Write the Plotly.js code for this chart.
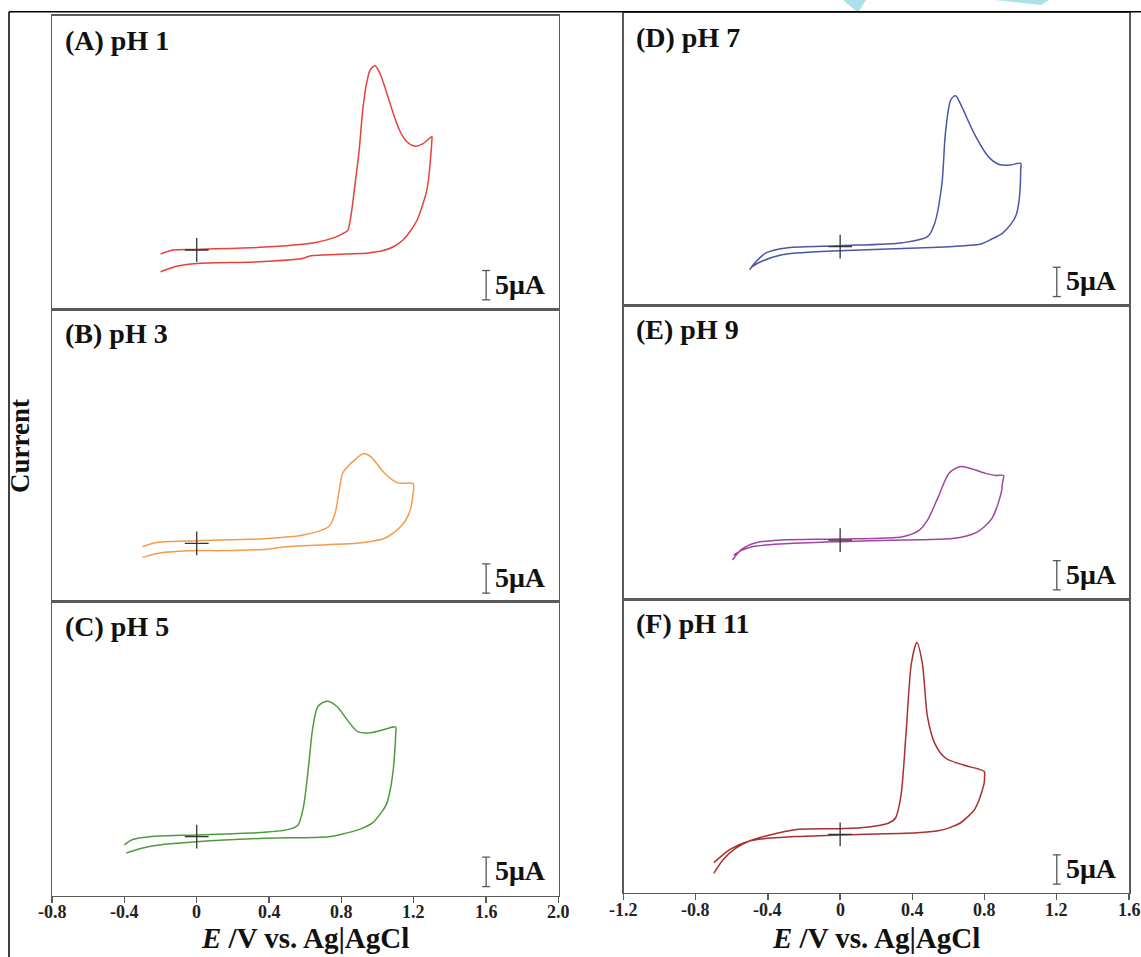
<!DOCTYPE html>
<html><head><meta charset="utf-8">
<script src="https://cdn.plot.ly/plotly-3.0.1.min.js"></script>
<style>html,body{margin:0;padding:0;background:#fff;}#chart{width:1141px;height:957px;}</style>
</head><body><div id="chart"></div>
<script>
// ---- Data (potential in V vs Ag|AgCl, current in uA relative to the "+" origin) ----
const potentialA = [-0.20,-0.13,0,0.35,0.65,0.76,0.82,0.836,0.852,0.876,0.898,0.918,0.939,0.959,0.986,1.01,1.04,1.08,1.12,1.16,1.21,1.25,1.30, 1.30,1.295,1.285,1.27,1.25,1.22,1.18,1.14,1.09,1.03,0.95,0.82,0.63,0.59,0.35,0,-0.10,-0.20];
const currentA   = [-0.7,0,0.1,0.45,1.25,2.1,3.0,3.4,5.7,11.4,17.0,23.9,28.4,30.7,31.4,30.3,27.8,23.9,20.5,18.5,17.7,18.1,19.3, 18.7,16.5,13.0,9.9,7.8,5.2,3.2,1.7,0.6,-0.1,-0.5,-0.7,-1.0,-1.4,-2.0,-2.3,-2.7,-3.7];

const potentialB = [-0.30,-0.23,0,0.35,0.59,0.73,0.765,0.785,0.806,0.826,0.877,0.922,0.96,1.04,1.11,1.195, 1.20,1.195,1.185,1.165,1.135,1.09,1.04,0.96,0.88,0.49,0.39,0.14,0,-0.21,-0.30];
const currentB   = [-0.6,0.1,0.45,0.75,1.4,2.85,5.1,8.5,11.9,12.8,14.3,15.3,14.8,11.9,10.3,10.2, 9.7,8.2,6.2,4.5,3.1,1.8,0.85,0.3,0,-0.6,-1.0,-1.25,-1.25,-1.7,-2.4];

const potentialC = [-0.40,-0.37,-0.33,-0.21,0,0.345,0.51,0.56,0.59,0.62,0.64,0.67,0.72,0.775,0.84,0.89,0.96,1.04,1.10, 1.10,1.095,1.085,1.07,1.05,1.02,0.97,0.90,0.80,0.73,0.345,0,-0.21,-0.31,-0.39];
const currentC   = [-1.4,-0.7,-0.3,0.1,0.3,0.7,1.25,2.0,5.1,12.5,18.2,22.2,23.1,22.2,19.6,17.9,17.7,18.3,18.7, 17.6,14.5,11.0,8.0,5.6,4.1,2.3,1.25,0.4,0,-0.3,-0.85,-1.4,-2.0,-2.8];

const potentialD = [-0.50,-0.467,-0.408,-0.289,0,0.346,0.484,0.524,0.564,0.583,0.613,0.639,0.673,0.742,0.822,0.881,0.94,1.0, 1.0,0.998,0.99,0.975,0.95,0.90,0.84,0.78,0.66,0.544,0,-0.209,-0.328,-0.427,-0.487,-0.50];
const currentD   = [-3.85,-2.56,-1.02,-0.17,0.17,0.68,1.7,4.0,10.8,19.3,25.0,25.7,23.9,19.3,15.3,14.0,13.9,14.2, 13.1,10.5,7.6,5.4,4.0,2.3,1.3,0.45,0.1,-0.11,-0.68,-1.02,-1.42,-2.39,-3.4,-3.85];

const potentialE = [-0.596,-0.546,-0.467,-0.328,0,0.346,0.435,0.484,0.544,0.603,0.663,0.722,0.802,0.861,0.905, 0.90,0.895,0.881,0.862,0.841,0.80,0.762,0.70,0.623,0.346,0,-0.328,-0.487,-0.546,-0.59];
const currentE   = [-3.4,-1.6,-0.45,0,0.17,0.57,1.6,3.4,7.4,11.4,12.5,12.2,11.4,11.0,11.0, 9.9,8.5,6.8,5.1,3.7,2.3,1.4,0.7,0.28,0,-0.28,-0.68,-1.14,-1.75,-2.56];

const potentialF = [-0.70,-0.645,-0.58,-0.50,-0.40,-0.30,-0.229,0,0.147,0.266,0.306,0.336,0.365,0.395,0.425,0.455,0.484,0.524,0.583,0.683,0.798, 0.80,0.797,0.782,0.765,0.742,0.70,0.663,0.60,0.544,0.425,0,-0.249,-0.45,-0.52,-0.60,-0.65,-0.70];
const currentF   = [-6.65,-4.2,-2.4,-1.1,-0.2,0.5,0.85,0.96,1.19,1.88,2.73,6.4,17.2,29.2,32.7,29.2,20.0,15.5,13.0,11.8,10.7, 9.8,8.6,7.0,5.5,4.1,2.8,1.88,1.05,0.62,0.28,-0.11,-0.4,-0.85,-1.3,-2.4,-3.5,-4.84];

const panelLabels = ["(A) pH 1","(B) pH 3","(C) pH 5","(D) pH 7","(E) pH 9","(F) pH 11"];
const leftTickVals  = [-0.8,-0.4,0,0.4,0.8,1.2,1.6,2.0];
const leftTickText  = ["-0.8","-0.4","0","0.4","0.8","1.2","1.6","2.0"];
const rightTickVals = [-1.2,-0.8,-0.4,0,0.4,0.8,1.2,1.6];
const rightTickText = ["-1.2","-0.8","-0.4","0","0.4","0.8","1.2","1.6"];
const scaleBarValue = 5;      // uA
const scaleBarLabel = "5μA";
const xTitle = "<i>E</i> /V vs. Ag|AgCl";
const yTitle = "Current";

// ---- Layout helpers ----
const W = 1141, H = 957;
const px = x => x / W;
const py = y => 1 - y / H;
const FONT = "Liberation Serif, 'Times New Roman', serif";

const panels = [
  {pot: potentialA, cur: currentA, color: "#e8403a", col: 0, top: 15.7, bottom: 309,   yr: [-10.06, 39.94]},
  {pot: potentialB, cur: currentB, color: "#f59a48", col: 0, top: 309,  bottom: 601.7, yr: [-9.96, 39.94]},
  {pot: potentialC, cur: currentC, color: "#4f9a3e", col: 0, top: 601.7,bottom: 895.7, yr: [-10.06, 40.06]},
  {pot: potentialD, cur: currentD, color: "#4a56a6", col: 1, top: 12.5, bottom: 305,   yr: [-9.94, 39.9]},
  {pot: potentialE, cur: currentE, color: "#a044a4", col: 1, top: 305,  bottom: 599.3, yr: [-10.1, 40.06]},
  {pot: potentialF, cur: currentF, color: "#a83030", col: 1, top: 599.3,bottom: 892.7, yr: [-9.96, 40.06]}
];
const cols = [
  {left: 52, right: 558.5, range: [-0.8, 2.0], tv: leftTickVals, tt: leftTickText, bar: 1.6, labelY: 912},
  {left: 623.5, right: 1129, range: [-1.2, 1.6], tv: rightTickVals, tt: rightTickText, bar: 1.2, labelY: 910}
];

const data = [];
const layout = {
  width: W, height: H, margin: {l:0, r:0, t:0, b:0},
  paper_bgcolor: "#fff", plot_bgcolor: "#fff", showlegend: false,
  font: {family: FONT, color: "#111"},
  shapes: [], annotations: []
};

panels.forEach((p, i) => {
  const n = i + 1;
  const xa = n === 1 ? "x" : "x" + n, ya = n === 1 ? "y" : "y" + n;
  const c = cols[p.col];
  const isBottom = (i === 2 || i === 5);
  data.push({x: p.pot, y: p.cur, xaxis: xa, yaxis: ya, mode: "lines", type: "scatter",
    line: {color: p.color, width: 1.5, shape: "spline", smoothing: 0.8}, hoverinfo: "skip"});
  data.push({x: [0], y: [0], xaxis: xa, yaxis: ya, mode: "markers", type: "scatter",
    marker: {symbol: "cross-thin", size: 17, line: {color: "#333", width: 1.3}}, hoverinfo: "skip"});
  layout["xaxis" + (n === 1 ? "" : n)] = {
    domain: [px(c.left), px(c.right)], range: c.range, anchor: ya,
    showline: true, mirror: true, linecolor: "#5a5a5a", linewidth: 1.5,
    showgrid: false, zeroline: false, fixedrange: true,
    tickmode: "array", tickvals: c.tv, ticktext: c.tt,
    ticks: isBottom ? "outside" : "", ticklen: 6, tickwidth: 1.3, tickcolor: "#5a5a5a",
    showticklabels: false
  };
  layout["yaxis" + (n === 1 ? "" : n)] = {
    domain: [py(p.bottom), py(p.top)], range: p.yr, anchor: xa,
    showline: true, mirror: true, linecolor: "#5a5a5a", linewidth: 1.5,
    showgrid: false, zeroline: false, showticklabels: false, ticks: "", fixedrange: true
  };
  // tick labels of the bottom axes, placed at the axis' tick values
  if (isBottom) {
    c.tv.forEach((v, k) => {
      layout.annotations.push({xref: xa, yref: "paper", x: v, y: py(c.labelY),
        xanchor: "center", yanchor: "middle", text: c.tt[k], showarrow: false,
        font: {family: FONT, size: 18, color: "#222", weight: "bold"}});
    });
  }
  // scale bar (5 uA) drawn in data units
  const y0 = -8.5, y1 = y0 + scaleBarValue, hw = 0.022;
  const sc = {color: "#555", width: 1.3};
  layout.shapes.push({type: "line", xref: xa, yref: ya, x0: c.bar, x1: c.bar, y0: y0, y1: y1, line: sc});
  layout.shapes.push({type: "line", xref: xa, yref: ya, x0: c.bar - hw, x1: c.bar + hw, y0: y0, y1: y0, line: sc});
  layout.shapes.push({type: "line", xref: xa, yref: ya, x0: c.bar - hw, x1: c.bar + hw, y0: y1, y1: y1, line: sc});
  layout.annotations.push({xref: xa, yref: ya, x: c.bar, y: (y0 + y1) / 2, xanchor: "left", yanchor: "middle",
    xshift: 7, yshift: 1, text: scaleBarLabel, showarrow: false,
    font: {family: FONT, size: 28, color: "#111", weight: "bold"}});
  // panel label
  layout.annotations.push({xref: "paper", yref: "paper", x: px(c.left + 11), y: py(p.top + 7),
    xanchor: "left", yanchor: "top", text: panelLabels[i], showarrow: false,
    font: {family: FONT, size: 28, color: "#111", weight: "bold"}});
});

// axis titles
[0, 1].forEach(k => {
  const c = cols[k];
  layout.annotations.push({xref: "paper", yref: "paper", x: px((c.left + c.right) / 2), y: py(957), yshift: 1,
    xanchor: "center", yanchor: "bottom", text: xTitle, showarrow: false,
    font: {family: FONT, size: 29, color: "#111", weight: "bold"}});
});
layout.annotations.push({xref: "paper", yref: "paper", x: px(20), y: py(446), textangle: -90,
  xanchor: "center", yanchor: "middle", text: yTitle, showarrow: false,
  font: {family: FONT, size: 27, color: "#111", weight: "bold"}});

// outer frame
layout.shapes.push({type: "line", xref: "paper", yref: "paper", x0: px(9), x1: 1, y0: py(11.7), y1: py(11.7), line: {color: "#000", width: 1.5}});
layout.shapes.push({type: "line", xref: "paper", yref: "paper", x0: px(9), x1: px(9), y0: py(11.7), y1: 0, line: {color: "#000", width: 1.5}});
// faint watermark marks at the top edge
layout.shapes.push({type: "path", xref: "paper", yref: "paper", layer: "below",
  path: `M ${px(843)} ${py(0)} L ${px(866)} ${py(0)} L ${px(858)} ${py(13)} Z`, fillcolor: "#aee0ea", line: {width: 0}});
layout.shapes.push({type: "path", xref: "paper", yref: "paper", layer: "below",
  path: `M ${px(995)} ${py(0)} L ${px(1049)} ${py(0)} L ${px(1041)} ${py(5)} Z`, fillcolor: "#aee0ea", line: {width: 0}});

Plotly.newPlot("chart", data, layout, {staticPlot: true, displayModeBar: false});
</script></body></html>
